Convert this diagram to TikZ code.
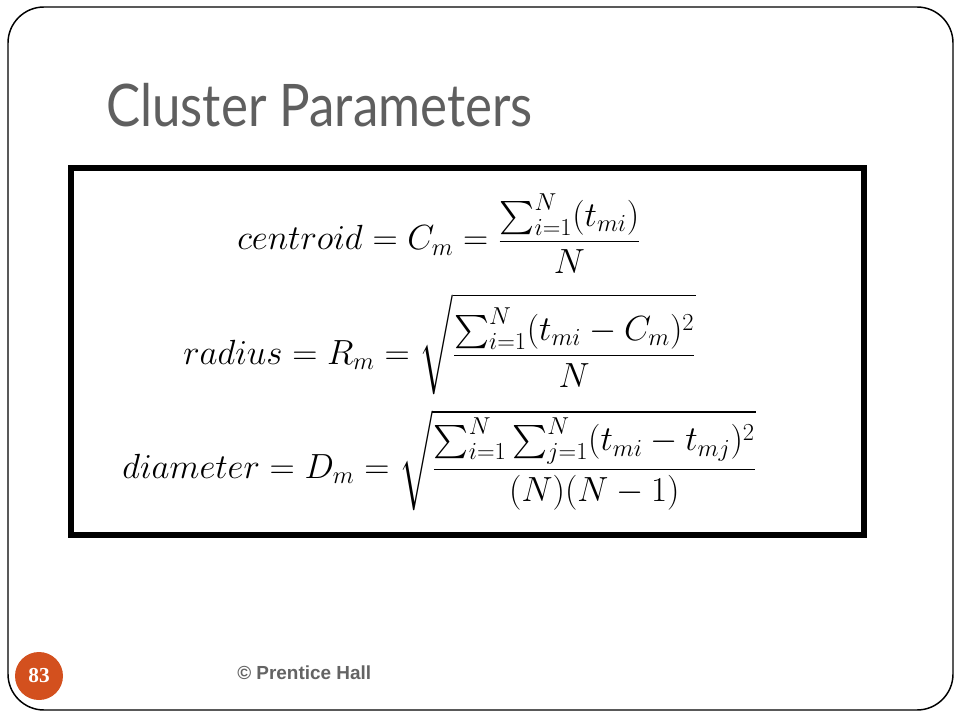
\documentclass[tikz,border=0pt]{standalone}
\usepackage{fix-cm}
\usepackage{fontspec}
\usepackage{amsmath}
\setmainfont{Liberation Sans}
\newfontfamily\titlefont{Lato}
\newfontfamily\numfont{Liberation Serif}
\definecolor{slidegray}{RGB}{95,95,95}
\definecolor{footgray}{RGB}{100,100,100}
\definecolor{badge}{RGB}{211,80,30}

\begin{document}
\begin{tikzpicture}[x=0.75pt,y=-0.75pt,
    formula/.style={anchor=base west,inner sep=0pt,font=\fontsize{26.2}{31}\selectfont}]
    \useasboundingbox (0,0) rectangle (960,720);
    \draw[line width=1.1pt,rounded corners=27pt] (8,7) rectangle (953,710);
    \node[anchor=base west,inner sep=0pt,text=slidegray,xscale=0.87,
          font=\titlefont\fontsize{44}{50}\selectfont] (title) at (106,127) {Cluster Parameters};
    \draw[line width=4.5pt] (71,168) rectangle (864,535);
    \node[formula] (centroid) at (237,250)
      {$\displaystyle centroid=C_m=\frac{\sum_{i=1}^{N}(t_{mi})}{N}$};
    \node[formula] (radius) at (183,364)
      {$\displaystyle radius=R_m=\sqrt{\frac{\sum_{i=1}^{N}(t_{mi}-C_m)^2}{N}}$};
    \node[formula] (diameter) at (122,478)
      {$\displaystyle diameter=D_m=\sqrt{\frac{\sum_{i=1}^{N}\sum_{j=1}^{N}(t_{mi}-t_{mj})^2}{(N)(N-1)}}$};
    \node[circle,fill=badge,minimum size=36pt,inner sep=0pt,text=white,
          font=\numfont\bfseries\fontsize{16}{18}\selectfont] (page) at (39,676) {83};
    \node[anchor=base west,inner sep=0pt,text=footgray,
          font=\bfseries\fontsize{14.2}{17}\selectfont] (credit) at (237,679) {\textcopyright\ Prentice Hall};
\end{tikzpicture}
\end{document}
